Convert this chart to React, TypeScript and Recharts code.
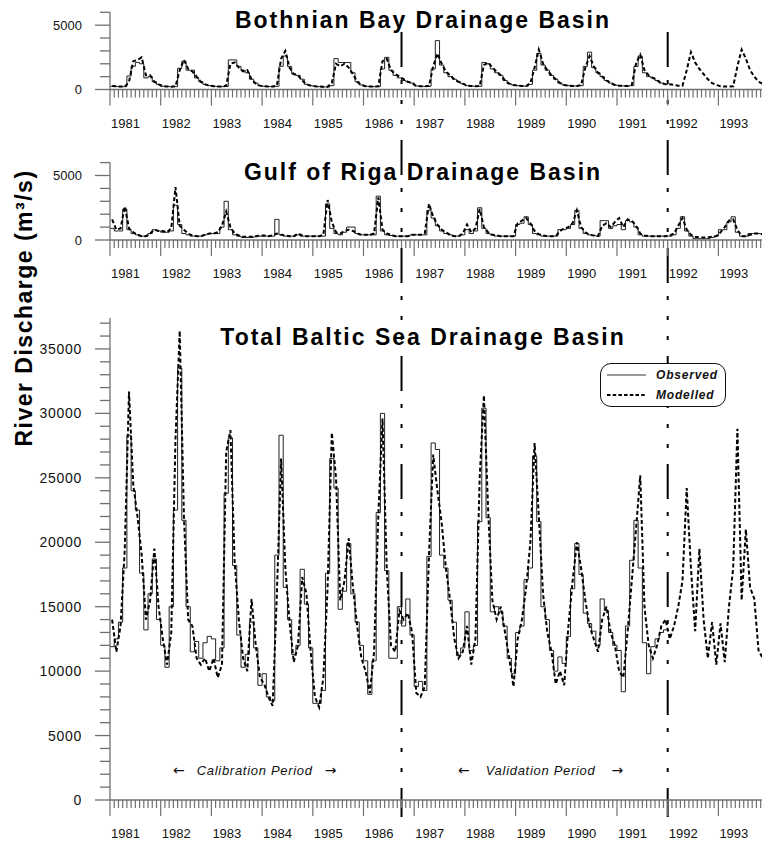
import { LineChart, Line, XAxis, YAxis, ReferenceLine, Legend } from "recharts";

const START = 1981;
const END = 1993.86;
const AXIS_GRAY = "#707070";
const FONT = '"Liberation Sans", Arial, Helvetica, sans-serif';

const YEAR_LABELS = [1981, 1982, 1983, 1984, 1985, 1986, 1987, 1988, 1989, 1990, 1991, 1992, 1993];
// one tick per month, long ones at January
const MONTH_TICKS = Array.from({ length: YEAR_LABELS.length * 12 - 1 }, (_, i) => START + i / 12);
const SMALL_Y_TICKS = [0, 1000, 2000, 3000, 4000, 5000, 6000];
const TOTAL_Y_TICKS = Array.from({ length: 38 }, (_, i) => i * 1000);

// end of calibration / end of validation period
const PERIOD_BREAKS = [1986.75, 1992];
const SERIES_ORDER = ["Observed", "Modelled"];

// monthly discharge, m3/s — observed Jan 1981..Dec 1991, modelled Jan 1981..Nov 1993
const bothnianObserved = [
  250, 230, 220, 220, 1050, 1800, 2100, 2000, 900, 1000, 600, 400,
  250, 230, 220, 220, 1650, 2200, 1500, 1500, 900, 600, 400, 300,
  250, 230, 220, 240, 2300, 2300, 1800, 1500, 1300, 800, 500, 300,
  250, 230, 220, 250, 1800, 2600, 1800, 1200, 1100, 800, 400, 300,
  250, 220, 200, 200, 300, 2400, 2100, 2100, 2100, 1300, 600, 350,
  250, 230, 220, 230, 1600, 2500, 1500, 1100, 900, 700, 600, 500,
  270, 250, 240, 250, 1600, 3800, 1900, 1300, 1000, 800, 600, 450,
  300, 270, 250, 250, 2100, 2000, 1600, 1300, 1100, 700, 450, 350,
  300, 270, 260, 400, 1500, 2800, 1900, 1500, 1100, 800, 500, 350,
  300, 280, 270, 300, 1800, 2900, 1700, 1300, 1000, 700, 500, 350,
  300, 280, 270, 300, 1800, 2600, 1300, 1000, 900, 700, 500, 400,
];
const bothnianModelled = [
  280, 250, 230, 230, 600, 2200, 2300, 2500, 1100, 1100, 600, 400,
  270, 240, 220, 250, 1500, 2300, 1600, 1400, 1000, 600, 400, 300,
  260, 240, 230, 300, 2000, 2100, 1700, 1400, 1500, 800, 450, 300,
  250, 230, 230, 300, 2400, 3000, 1700, 1200, 1100, 700, 400, 300,
  260, 230, 210, 210, 500, 2000, 1800, 2000, 1700, 1200, 600, 350,
  260, 240, 230, 250, 2200, 2400, 1500, 1200, 1000, 800, 600, 500,
  280, 260, 250, 280, 1800, 2800, 2000, 1400, 1100, 800, 600, 450,
  300, 270, 250, 270, 1900, 2100, 1700, 1400, 1100, 700, 450, 350,
  300, 280, 270, 500, 1700, 3100, 2000, 1500, 1100, 800, 500, 350,
  300, 280, 280, 350, 1700, 2600, 1800, 1300, 1000, 700, 500, 350,
  300, 280, 270, 350, 2000, 2700, 1500, 1100, 900, 700, 500, 400,
  400, 350, 300, 300, 1500, 2900, 2100, 1600, 1200, 800, 500, 350,
  250, 230, 220, 250, 1800, 3100, 2400, 1500, 1000, 600, 450,
];

// Gulf of Riga has observations through 1993
const rigaObserved = [
  900, 700, 700, 2400, 800, 500, 400, 300, 300, 500, 800, 700,
  600, 600, 700, 2700, 1200, 500, 400, 300, 300, 300, 400, 500,
  500, 500, 1000, 3000, 800, 400, 300, 200, 200, 200, 250, 300,
  300, 300, 300, 1600, 400, 300, 300, 300, 400, 300, 300, 300,
  300, 300, 300, 2800, 900, 500, 400, 600, 1000, 1000, 500, 400,
  400, 400, 400, 3400, 700, 400, 350, 300, 300, 300, 300, 400,
  400, 400, 400, 2300, 1700, 1100, 700, 500, 400, 300, 300, 400,
  800, 500, 700, 2500, 900, 500, 400, 300, 300, 300, 300, 300,
  1200, 1300, 1800, 1200, 500, 400, 300, 300, 300, 300, 800, 800,
  900, 1200, 2300, 900, 500, 400, 350, 300, 1500, 1500, 900, 1100,
  1200, 800, 1500, 1400, 1000, 400, 300, 300, 300, 300, 300, 300,
  300, 400, 900, 1800, 700, 300, 100, 100, 100, 100, 200, 300,
  800, 800, 1400, 1800, 600, 300, 300, 500, 500, 500, 500,
];
const rigaModelled = [
  1600, 800, 900, 2600, 900, 600, 400, 300, 300, 500, 800, 700,
  700, 600, 900, 4100, 1100, 800, 500, 350, 300, 300, 400, 500,
  500, 600, 1100, 2200, 1000, 500, 350, 250, 250, 250, 300, 350,
  350, 300, 350, 500, 400, 350, 300, 300, 500, 350, 300, 300,
  300, 300, 400, 3100, 1400, 600, 500, 700, 800, 700, 500, 400,
  400, 400, 500, 3300, 800, 500, 400, 300, 300, 300, 300, 400,
  400, 400, 500, 2800, 1800, 1200, 800, 600, 400, 300, 300, 500,
  1200, 600, 900, 2400, 1000, 600, 400, 350, 300, 300, 300, 300,
  1300, 1500, 1700, 1300, 700, 450, 350, 300, 300, 300, 700, 900,
  1000, 1300, 2300, 1000, 600, 400, 350, 300, 1100, 1300, 1000, 1400,
  1700, 1000, 1600, 1500, 1100, 500, 350, 300, 300, 300, 300, 300,
  350, 500, 1100, 1700, 800, 400, 250, 200, 200, 200, 250, 300,
  600, 1000, 1500, 1600, 800, 300, 300, 400, 500, 500, 450,
];

const balticObserved = [
  11900, 12500, 13800, 18000, 28300, 24000, 22500, 17600, 13200, 16000, 18700, 14000,
  12000, 10300, 15000, 22500, 33500, 21700, 15000, 11500, 12300, 11000, 12200, 12700,
  12500, 10800, 11800, 23800, 28100, 18200, 12800, 10300, 11300, 13800, 11800, 8900,
  9800, 8000, 7700, 19000, 28300, 16500, 14000, 11300, 12000, 17900, 15200, 11800,
  7500, 7500, 8500, 17600, 26500, 24200, 14800, 16200, 19900, 16000, 13800, 12000,
  10800, 8200, 10800, 22300, 30000, 17800, 11000, 11000, 15000, 13500, 15600, 12800,
  8800, 9200, 8500, 18900, 27700, 27200, 19000, 18000, 15500, 13800, 11200, 11800,
  14600, 11600, 12000, 21600, 30400, 21900, 14600, 15000, 14600, 13500, 11000, 9800,
  13000, 13500, 17100, 18000, 26700, 21600, 15000, 14000, 11600, 10000, 11100, 10600,
  12700, 16400, 19900, 17500, 14500, 13700, 13100, 12000, 15600, 14700, 13000, 12000,
  11600, 8400, 13500, 18600, 21700, 18000, 12200, 9800, 11900, 12500, 13000, 13200,
];
const balticModelled = [
  14000, 11500, 13500, 19500, 31700, 24500, 22000, 19000, 14000, 15500, 19500, 15000,
  12500, 10500, 13000, 28000, 36400, 22000, 14000, 13500, 11000, 10500, 11000, 10000,
  11000, 9500, 10500, 27000, 28700, 18500, 14000, 11000, 10000, 15600, 12000, 9500,
  9000, 8000, 7300, 16000, 26500, 18000, 13800, 10700, 12000, 17300, 16000, 11500,
  8000, 7200, 9500, 16500, 28500, 25000, 15500, 17000, 20300, 16500, 13500, 11000,
  10000, 8300, 11500, 22000, 29600, 18000, 12000, 11500, 14700, 14000, 14500, 13000,
  8300, 8000, 8800, 19000, 26800, 24000, 21500, 18000, 15500, 12500, 11000, 11500,
  13500, 10500, 12500, 25000, 31400, 22500, 15500, 14000, 15000, 13000, 11000, 8800,
  12500, 14000, 16500, 20000, 27700, 22000, 16000, 13000, 11500, 9000, 10000, 8900,
  13500, 17000, 20000, 18000, 15500, 13500, 12500, 11500, 14000, 15000, 13000, 12000,
  10000, 9500, 13000, 17000, 21000, 25200, 15000, 12000, 11000, 12000, 13500, 14000,
  12500, 13500, 15000, 17000, 24200, 18000, 13100, 19500, 14000, 11000, 13800, 10500,
  13700, 10700, 15000, 18000, 28800, 15500, 21000, 16500, 15600, 11600, 11000,
];

// observed values are monthly means: a step from the first of the month,
// closed at the end of the last month
const stepRows = (values: number[]) => [
  ...values.map((v, i) => ({ t: START + i / 12, v })),
  { t: START + values.length / 12, v: values[values.length - 1] },
];
// modelled values plotted at mid-month
const midRows = (values: number[]) => values.map((v, i) => ({ t: START + (i + 0.5) / 12, v }));

// the separator chart only needs the time span
const spanRows = [
  { t: START, v: 0 },
  { t: END, v: 1 },
];

function XTick(props: any) {
  const { x, y, payload } = props;
  const month = Math.round((payload.value - START) * 12);
  const year = START + month / 12;
  const isYear = month % 12 === 0;
  return (
    <g>
      <line x1={x} x2={x} y1={y} y2={y + (isYear ? 16 : 8)} stroke={AXIS_GRAY} strokeWidth={1.2} />
      {isYear && YEAR_LABELS.includes(year) && (
        <text x={x + 1} y={y + 33.5} dominantBaseline="central" fontSize={13} fontFamily={FONT} fill="#111">
          {year}
        </text>
      )}
    </g>
  );
}

function YTick(props: any) {
  const { x, y, payload, fontSize, spacing } = props;
  const v = payload.value;
  const major = v % 5000 === 0;
  return (
    <g>
      <line x1={x - (major ? 15 : 10)} x2={x} y1={y} y2={y} stroke={AXIS_GRAY} strokeWidth={1.3} />
      {major && (
        <text
          x={x - 28}
          y={y}
          textAnchor="end"
          dominantBaseline="central"
          fontSize={fontSize}
          letterSpacing={spacing}
          fontFamily={FONT}
          fill="#111"
        >
          {v}
        </text>
      )}
    </g>
  );
}

function LegendBox({ payload }: any) {
  const items = [...(payload ?? [])].sort(
    (a: any, b: any) => SERIES_ORDER.indexOf(a.value) - SERIES_ORDER.indexOf(b.value)
  );
  return (
    <div
      style={{
        boxSizing: "border-box",
        width: 126,
        height: 44,
        border: "1.5px solid #111",
        borderRadius: 11,
        background: "#fff",
        padding: "1px 0 0 5px",
      }}
    >
      {items.map((entry: any) => {
        const dashed = entry.value === "Modelled";
        return (
          <div key={entry.value} style={{ display: "flex", alignItems: "center", height: 20 }}>
            <svg width={50} height={4} style={{ flex: "none" }}>
              <line
                x1={1}
                x2={40}
                y1={2}
                y2={2}
                stroke={dashed ? "#000" : "#999"}
                strokeWidth={2}
                strokeDasharray={dashed ? "3.5 2.2" : undefined}
              />
            </svg>
            <span
              style={{
                fontFamily: FONT,
                fontSize: 12,
                fontWeight: 700,
                fontStyle: "italic",
                letterSpacing: 0.8,
                color: "#111",
              }}
            >
              {entry.value}
            </span>
          </div>
        );
      })}
    </div>
  );
}

type PanelProps = {
  top: number;
  height: number;
  marginTop: number;
  axisHeight: number;
  yMax: number;
  yTicks: number[];
  observed: number[];
  modelled: number[];
  fontSize: number;
  spacing: number;
  legend?: boolean;
};

function Panel(p: PanelProps) {
  return (
    <div style={{ position: "absolute", left: 0, top: p.top }}>
      <LineChart width={762} height={p.height} margin={{ top: p.marginTop, right: 0, bottom: 0, left: 0 }}>
        <XAxis
          type="number"
          dataKey="t"
          domain={[START, END]}
          allowDataOverflow
          ticks={MONTH_TICKS}
          interval={0}
          tickLine={false}
          tickSize={0}
          tickMargin={0}
          height={p.axisHeight}
          axisLine={{ stroke: AXIS_GRAY, strokeWidth: 1.3 }}
          tick={(props: any) => <XTick {...props} />}
        />
        <YAxis
          type="number"
          domain={[0, p.yMax]}
          allowDataOverflow
          ticks={p.yTicks}
          interval={0}
          width={110}
          tickLine={false}
          tickSize={0}
          tickMargin={0}
          axisLine={{ stroke: AXIS_GRAY, strokeWidth: 1.3 }}
          tick={(props: any) => <YTick {...props} fontSize={p.fontSize} spacing={p.spacing} />}
        />
        <Line
          name="Observed"
          data={stepRows(p.observed)}
          dataKey="v"
          type="stepAfter"
          stroke="#222"
          strokeWidth={1}
          dot={false}
          isAnimationActive={false}
        />
        <Line
          name="Modelled"
          data={midRows(p.modelled)}
          dataKey="v"
          type="linear"
          stroke="#000"
          strokeWidth={2}
          strokeDasharray="4 2.5"
          dot={false}
          isAnimationActive={false}
        />
        {p.legend && (
          <Legend
            layout="horizontal"
            verticalAlign="middle"
            align="center"
            wrapperStyle={{ position: "absolute", left: 600, top: 73, width: 126, height: 44 }}
            content={(props: any) => <LegendBox {...props} />}
          />
        )}
      </LineChart>
    </div>
  );
}

const titleStyle = (top: number): React.CSSProperties => ({
  position: "absolute",
  left: 423,
  top,
  transform: "translate(-50%, -50%)",
  whiteSpace: "nowrap",
  fontFamily: FONT,
  fontWeight: 700,
  fontSize: 23,
  letterSpacing: 2,
  color: "#000",
});

const periodStyle = (left: number): React.CSSProperties => ({
  position: "absolute",
  left,
  top: 770,
  transform: "translateY(-50%)",
  display: "flex",
  alignItems: "center",
  whiteSpace: "nowrap",
  fontFamily: FONT,
  fontStyle: "italic",
  fontSize: 13,
  letterSpacing: 0.7,
  color: "#111",
});

const arrowStyle: React.CSSProperties = {
  fontFamily: '"DejaVu Sans", sans-serif',
  fontStyle: "normal",
  fontSize: 14,
  letterSpacing: 0,
};

export default function App() {
  return (
    <div
      style={{
        position: "absolute",
        left: 0,
        top: 0,
        width: 762,
        height: 841,
        overflow: "hidden",
        background: "#fff",
        fontFamily: FONT,
      }}
    >
      {/* period separators, running through all three panels */}
      <div style={{ position: "absolute", left: 0, top: 0 }}>
        <LineChart width={762} height={841} data={spanRows} margin={{ top: 32, right: 0, bottom: 24, left: 110 }}>
          <XAxis type="number" dataKey="t" domain={[START, END]} hide />
          <YAxis type="number" dataKey="v" domain={[0, 1]} hide />
          {PERIOD_BREAKS.map((x) => (
            <ReferenceLine
              key={x}
              segment={[
                { x, y: 1 },
                { x, y: 0 },
              ]}
              ifOverflow="visible"
              stroke="#000"
              strokeWidth={2}
              strokeDasharray="35 13 4 16 4 16 4 16"
            />
          ))}
        </LineChart>
      </div>

      <Panel
        top={0}
        height={140}
        marginTop={12.3}
        axisHeight={50.5}
        yMax={6000}
        yTicks={SMALL_Y_TICKS}
        observed={bothnianObserved}
        modelled={bothnianModelled}
        fontSize={13}
        spacing={0}
      />
      <Panel
        top={140}
        height={150}
        marginTop={22.6}
        axisHeight={50}
        yMax={6000}
        yTicks={SMALL_Y_TICKS}
        observed={rigaObserved}
        modelled={rigaModelled}
        fontSize={13}
        spacing={0}
      />
      <Panel
        top={290}
        height={551}
        marginTop={28}
        axisHeight={41}
        yMax={37400}
        yTicks={TOTAL_Y_TICKS}
        observed={balticObserved}
        modelled={balticModelled}
        fontSize={14}
        spacing={0.7}
        legend
      />

      <div style={titleStyle(20)}>Bothnian Bay Drainage Basin</div>
      <div style={titleStyle(172)}>Gulf of Riga Drainage Basin</div>
      <div style={titleStyle(337)}>Total Baltic Sea Drainage Basin</div>

      <div
        style={{
          position: "absolute",
          left: 23.5,
          top: 307.5,
          transform: "translate(-50%, -50%) rotate(-90deg)",
          whiteSpace: "nowrap",
          fontFamily: FONT,
          fontWeight: 700,
          fontSize: 23,
          letterSpacing: 1.5,
          color: "#000",
        }}
      >
        River Discharge (m³/s)
      </div>

      <div style={periodStyle(173)}>
        <span style={arrowStyle}>←</span>
        <span style={{ margin: "0 12px" }}>Calibration Period</span>
        <span style={arrowStyle}>→</span>
      </div>
      <div style={periodStyle(458)}>
        <span style={arrowStyle}>←</span>
        <span style={{ margin: "0 16px" }}>Validation Period</span>
        <span style={arrowStyle}>→</span>
      </div>
    </div>
  );
}
